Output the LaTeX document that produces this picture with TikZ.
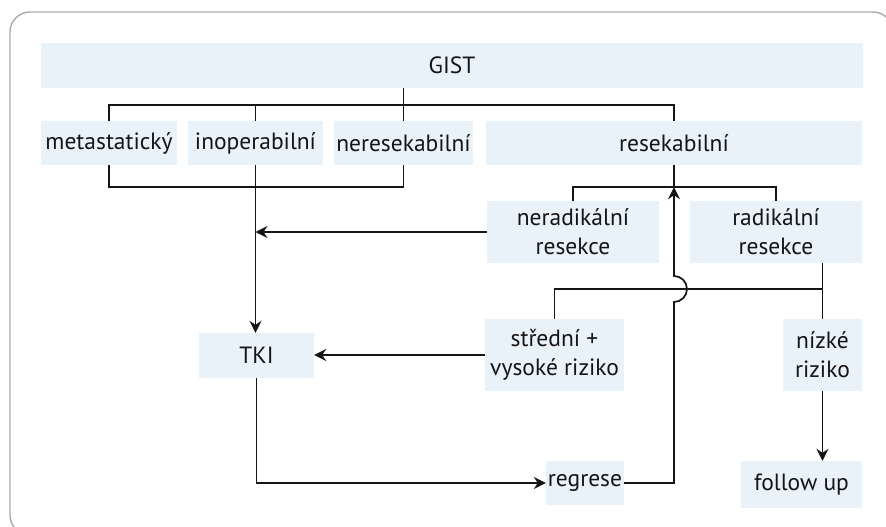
\documentclass[tikz,border=0pt]{standalone}
\usepackage{fontspec}
\setmainfont{PT Sans}
\usetikzlibrary{arrows.meta,calc}
\definecolor{boxfill}{HTML}{E9F1F9}
\definecolor{framegrey}{HTML}{ABABAB}
\definecolor{linecol}{HTML}{151515}
\begin{document}
\begin{tikzpicture}[x=1pt,y=-1pt,
  bx/.style={fill=boxfill, inner sep=0pt, align=center, text=linecol,
    font=\fontsize{23.5}{29}\selectfont},
  conn/.style={draw=linecol, line width=1.7pt},
  arr/.style={conn, -{Stealth[length=12pt,width=12pt,inset=4pt]}}]
\useasboundingbox (0,0) rectangle (886,527);
\clip (0,0) rectangle (886,527);
\draw[framegrey, line width=1.4pt, rounded corners=20pt] (10,12) rectangle (893,535);

\node[bx, minimum width=822pt, minimum height=45pt] (gist) at (452,65.5) {GIST};
\node[bx, minimum width=136pt, minimum height=44pt] (meta) at (109,143) {metastatický};
\node[bx, minimum width=135pt, minimum height=44pt] (inop) at (255.5,143) {inoperabilní};
\node[bx, minimum width=139pt, minimum height=44pt] (neres) at (403.5,143) {neresekabilní};
\node[bx, minimum width=376pt, minimum height=44pt] (resek) at (674,143) {resekabilní};
\node[bx, minimum width=172pt, minimum height=62pt] (nerad) at (573,232) {neradikální\\resekce};
\node[bx, minimum width=172pt, minimum height=62pt] (rad) at (776,232) {radikální\\resekce};
\node[bx, minimum width=139pt, minimum height=72pt] (stred) at (554.5,355) {střední +\\vysoké riziko};
\node[bx, minimum width=79pt, minimum height=72pt] (nizke) at (822.5,355) {nízké\\riziko};
\node[bx, minimum width=115pt, minimum height=45pt] (tki) at (256.5,355.5) {TKI};
\node[bx, minimum width=78pt, minimum height=44pt] (regrese) at (585,483) {regrese};
\node[bx, minimum width=121pt, minimum height=47pt] (follow) at (801.5,484.5) {follow up};

% top bus
\draw[conn] (gist.south -| neres.north) -- (neres.north);
\draw[conn] (meta.north) -- ++(0,-16) -| (resek.north);
\draw[conn] (inop.north) -- ++(0,-16);
% bottom bus
\draw[conn] (meta.south) -- ++(0,22) -| (neres.south);
\draw[arr] (inop.south) -- (inop.south |- tki.north);
\draw[arr] (nerad.west) -- (nerad.west -| inop.south);
% resekabilni bus
\coordinate (rb) at ($(resek.south)+(0,22)$);
\draw[conn] (resek.south) -- (rb);
\draw[conn] (nerad.north) |- (rb) -| (rad.north);
% riziko bus
\coordinate (rj) at (822.5,289);
\draw[conn] (nizke.north) -- (nizke.north |- rad.south);
\draw[conn] (stred.north) |- (rj);
\draw[arr] (stred.west) -- (stred.west -| tki.east);
\draw[arr] (nizke.south) -- (nizke.south |- follow.north);
% TKI -> regrese
\draw[arr] (tki.south) |- (regrese.west);
% regrese -> resekabilni with jump
\coordinate (jc) at (rj -| resek.south);
\draw[arr] (regrese.east) -| ($(jc)+(0,13)$) arc[start angle=-90, end angle=90, radius=13pt] -- (rb);
\end{tikzpicture}
\end{document}
